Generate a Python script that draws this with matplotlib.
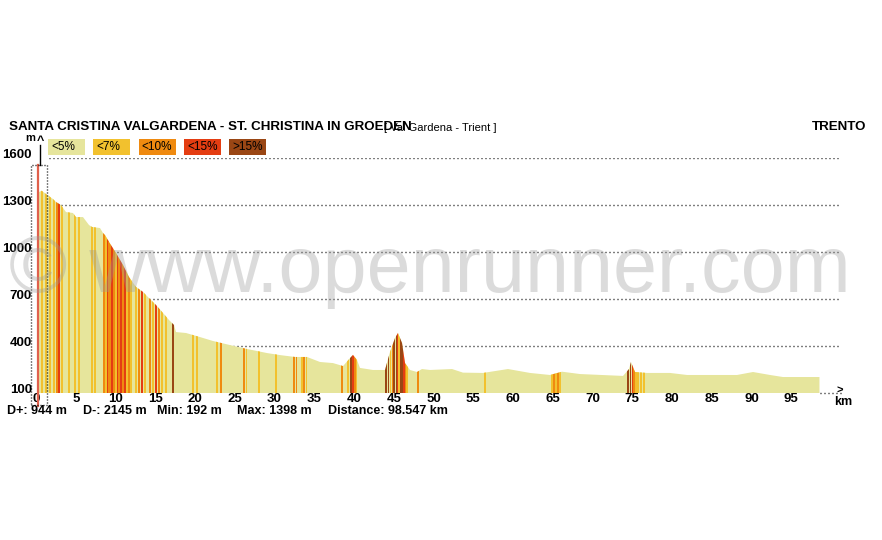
import numpy as np
import matplotlib
matplotlib.use("Agg")
import matplotlib.pyplot as plt
from matplotlib.patches import Polygon, Rectangle

plt.rcParams['font.family'] = ['Liberation Sans', 'DejaVu Sans']
plt.rcParams['lines.scale_dashes'] = False

# profile (km, m)
dist_km = [0.38, 0.72, 1.26, 2.14, 2.52, 3.14, 3.77, 4.65, 5.03, 5.91, 6.67, 7.04,
           8.05, 8.43, 8.68, 9.18, 10.06, 10.94, 11.70, 12.58, 13.46, 14.21, 15.09,
           15.97, 16.73, 17.36, 17.61, 18.87, 20.63, 22.26, 24.40, 26.54, 29.06,
           30.69, 32.58, 34.09, 35.72, 37.36, 38.62, 39.50, 39.87, 40.38, 40.75,
           42.39, 43.90, 44.53, 45.16, 45.53, 46.04, 46.42, 47.04, 47.92, 48.55,
           49.56, 52.33, 53.71, 56.23, 59.37, 62.14, 64.65, 66.16, 68.43, 73.84,
           74.59, 74.84, 75.35, 76.86, 79.75, 81.89, 85.16, 88.18, 90.19, 92.33,
           93.96, 98.36, 98.55]
elev_m = [1383, 1391, 1370, 1338, 1319, 1300, 1255, 1249, 1223, 1223, 1172, 1160,
          1153, 1121, 1108, 1064, 994, 917, 840, 777, 745, 706, 662,
          611, 566, 534, 489, 483, 457, 432, 406, 381, 355,
          342, 330, 330, 298, 291, 272, 323, 343, 311, 260,
          247, 247, 362, 451, 483, 419, 291, 247, 234, 253,
          247, 253, 230, 228, 253, 228, 215, 236, 221, 209,
          253, 298, 234, 228, 228, 215, 215, 215, 234, 215,
          202, 202, 202]

# gradient stripes: km position, width (km), class (1 <7%, 2 <10%, 3 <15%, 4 >15%)
stripe_km = [0.75, 1.26, 1.76, 2.26, 2.64, 2.89, 3.27, 4.15, 4.91, 5.41, 7.04, 7.42,
             8.55, 8.81, 9.06, 9.25, 9.56, 9.81, 10.06, 10.25, 10.44, 10.69, 10.94,
             11.19, 11.45, 11.70, 11.95, 12.58, 12.96, 13.33, 13.71, 14.34, 14.72,
             15.09, 15.47, 15.85, 16.35, 17.23, 19.75, 20.25, 22.77, 23.27, 26.16,
             26.48, 28.05, 30.19, 32.45, 32.77, 33.46, 33.71, 34.03, 38.49, 39.25,
             39.62, 39.87, 40.13, 40.31, 44.03, 44.34, 44.59, 44.84, 45.09, 45.35,
             45.50, 45.66, 45.85, 46.10, 46.29, 46.48, 46.67, 48.05, 56.48, 64.91,
             65.16, 65.41, 65.66, 65.91, 74.47, 74.78, 75.03, 75.22, 75.47, 75.72,
             76.10, 76.48]
stripe_w = [0.25, 0.15, 0.15, 0.15, 0.3, 0.15, 0.15, 0.15, 0.15, 0.15, 0.15, 0.15,
            0.3, 0.2, 0.2, 0.3, 0.25, 0.3, 0.2, 0.2, 0.3, 0.25, 0.3,
            0.25, 0.2, 0.3, 0.15, 0.15, 0.15, 0.15, 0.15, 0.15, 0.15,
            0.15, 0.15, 0.15, 0.15, 0.25, 0.15, 0.15, 0.15, 0.15, 0.15,
            0.15, 0.15, 0.15, 0.15, 0.15, 0.15, 0.15, 0.15, 0.15, 0.15,
            0.25, 0.2, 0.15, 0.15, 0.3, 0.25, 0.15, 0.15, 0.25, 0.2,
            0.15, 0.15, 0.25, 0.25, 0.15, 0.15, 0.15, 0.15, 0.15, 0.15,
            0.15, 0.15, 0.15, 0.15, 0.3, 0.25, 0.15, 0.15, 0.15, 0.15,
            0.15, 0.15]
stripe_cls = [1, 1, 1, 1, 2, 3, 1, 1, 1, 1, 1, 1,
              2, 1, 3, 2, 3, 2, 1, 3, 2, 3, 2,
              3, 1, 2, 1, 1, 2, 3, 1, 2, 1,
              3, 2, 1, 1, 4, 1, 1, 1, 2, 2,
              1, 1, 1, 2, 2, 1, 2, 1, 2, 1,
              4, 3, 2, 1, 4, 4, 1, 2, 4, 4,
              3, 1, 4, 4, 3, 2, 1, 2, 1, 1,
              2, 1, 2, 1, 4, 4, 3, 2, 1, 1,
              1, 1]

legend_labels = ['<5%', '<7%', '<10%', '<15%', '>15%']
legend_colors = ['#e6e59c', '#f2c12e', '#ef8a10', '#e43d12', '#9a4614']

yticks = [100, 400, 700, 1000, 1300, 1600]
xticks = list(range(0, 100, 5))

stats = ['D+: 944 m', 'D-: 2145 m', 'Min: 192 m', 'Max: 1398 m', 'Distance: 98.547 km']
stats_x = [7, 83, 157, 237, 328]

W, H = 882, 540


def fx(px):
    return px / W


def fy(py):
    return 1 - py / H


fig = plt.figure(figsize=(W / 100, H / 100), dpi=100)
ax = fig.add_axes([fx(36), fy(393), fx(845) - fx(36), fy(158) - fy(393)])
ax.set_xlim(0, (845 - 36) / 7.95)
ax.set_ylim(100, 1600)
ax.axis('off')

# dotted grid
for v in yticks[1:]:
    ax.plot([1.6, 101.0], [v, v], color='black', lw=1, dashes=(0.72, 2.16), zorder=1)

# profile
pts = [(dist_km[0], 100)] + list(zip(dist_km, elev_m)) + [(dist_km[-1], 100)]
prof = Polygon(pts, closed=True, facecolor=legend_colors[0], edgecolor='none', zorder=2)
ax.add_patch(prof)

bars = ax.bar(stripe_km, [1500] * len(stripe_km), width=stripe_w, bottom=100,
              color=[legend_colors[c] for c in stripe_cls], linewidth=0, zorder=3,
              antialiased=False)
for b in bars:
    b.set_clip_path(prof)

# start marker + axes decorations
ax.plot([0.25, 0.25], [20, 1555], color='#e0604c', lw=1.6, zorder=4, clip_on=False)
ax.add_patch(Rectangle((-0.63, 23), 2.01, 1532, fill=False, edgecolor='black', lw=1,
                       linestyle=(0, (0.72, 1.44)), zorder=5, clip_on=False))
ax.plot([0.5, 0.5], [1555, 1683], color='black', lw=1, zorder=5, clip_on=False)
ax.plot([98.6, 101.3], [100, 100], color='black', lw=1, dashes=(0.72, 2.16),
        zorder=1, clip_on=False)
fig.text(fx(840), fy(391), '>', fontsize=8, fontweight='bold', ha='center', va='center')
fig.text(fx(843), fy(402), 'km', fontsize=9, fontweight='bold', ha='center', va='center')
fig.text(fx(40), fy(141), '^', fontsize=9, fontweight='bold', ha='center', va='center')
fig.text(fx(30), fy(143), 'm', fontsize=8, fontweight='bold', ha='center', va='bottom')

for v in yticks:
    ax.text(-0.5, v, str(v), fontsize=9.5, fontweight='bold', ha='right', va='baseline',
            clip_on=False)
for k in xticks:
    ax.text(k, 100, str(k), fontsize=9.5, fontweight='bold', ha='center', va='top',
            clip_on=False)

# titles
fig.text(fx(9), fy(127), 'SANTA CRISTINA VALGARDENA - ST. CHRISTINA IN GROEDEN',
         fontsize=9.6, fontweight='bold', ha='left', va='center')
fig.text(fx(384), fy(128), '[ Val Gardena - Trient ]', fontsize=8, ha='left', va='center')
fig.text(fx(866), fy(127), 'TRENTO', fontsize=9.6, fontweight='bold', ha='right', va='center')

# legend
for i, (lab, col) in enumerate(zip(legend_labels, legend_colors)):
    x0 = 48 + i * 45.3
    fig.patches.append(Rectangle((fx(x0), fy(155)), fx(37), 16 / H, facecolor=col,
                                 edgecolor='none', transform=fig.transFigure))
    fig.text(fx(x0 + 3), fy(147), lab, fontsize=8.5, ha='left', va='center')

for s, x in zip(stats, stats_x):
    fig.text(fx(x), fy(411), s, fontsize=9, fontweight='bold', ha='left', va='center')

# watermark
fig.text(fx(430), fy(292), '\u00a9 www.openrunner.com', fontsize=57, color='#9a9a9a',
         alpha=0.35, ha='center', va='baseline')

fig.savefig('out.png', dpi=100)
